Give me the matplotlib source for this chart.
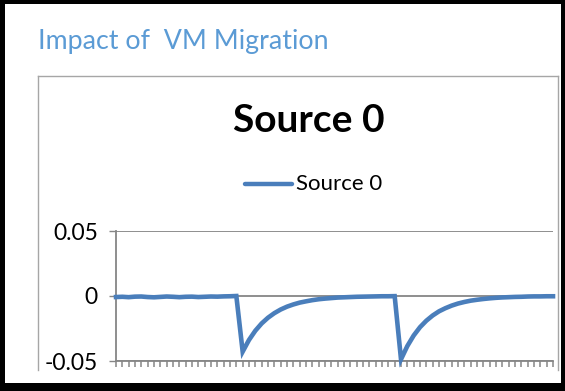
import matplotlib
matplotlib.use("Agg")
import matplotlib.pyplot as plt
from matplotlib.patches import Rectangle
from matplotlib.lines import Line2D

W, H = 565, 391

page_title = "Impact of  VM Migration"
series_name = "Source 0"
y_ticks = [-0.05, 0, 0.05]
y_tick_labels = ["-0.05", "0", "0.05"]

# steady state before the first migration (points 0-19)
baseline = [-0.0008, -0.0006, -0.0009, -0.0005, -0.0004, -0.0008, -0.0010,
            -0.0007, -0.0004, -0.0006, -0.0009, -0.0006, -0.0005, -0.0008,
            -0.0006, -0.0004, -0.0005, -0.0003, -0.0002, 0.0000]
# first migration and recovery (points 20-44)
spike_1 = [-0.0428, -0.0338, -0.0267, -0.0211, -0.0167, -0.0132, -0.0104,
           -0.0082, -0.0065, -0.0051, -0.0041, -0.0032, -0.0025, -0.0020,
           -0.0016, -0.0012, -0.0010, -0.0008, -0.0006, -0.0005, -0.0004,
           -0.0003, -0.0002, -0.0002, -0.0001]
# second migration and recovery (points 45-69)
spike_2 = [-0.0487, -0.0385, -0.0304, -0.0240, -0.0190, -0.0150, -0.0118,
           -0.0094, -0.0074, -0.0058, -0.0046, -0.0036, -0.0029, -0.0023,
           -0.0018, -0.0014, -0.0011, -0.0009, -0.0007, -0.0006, -0.0004,
           -0.0003, -0.0003, -0.0002, -0.0002]

values = baseline + spike_1 + spike_2
points = list(range(len(values)))

line_color = "#4A7EBB"
axis_gray = "#868686"
box_gray = "#A6A6A6"


def fx(x):
    return x / W


def fy(y):
    return 1 - y / H


fig = plt.figure(figsize=(W / 100, H / 100), dpi=100)
fig.patch.set_facecolor("white")

# black frame around the slide
for x0, y0, w, h in [(0, 0, W, 4), (0, 0, 5, H), (561, 0, 4, H), (0, 383, W, 8)]:
    fig.add_artist(Rectangle((fx(x0), fy(y0 + h)), w / W, h / H,
                             transform=fig.transFigure, color="black", lw=0))

# chart area border (cut off at the bottom)
for xs, ys in [([38, 38], [76, 370]), ([38, 558], [76, 76]), ([558, 558], [76, 370])]:
    fig.add_artist(Line2D([fx(v) for v in xs], [fy(v) for v in ys],
                          transform=fig.transFigure, color=box_gray, lw=1))

fig.text(fx(38), fy(41), page_title, family="Lato", fontsize=19.3,
         color="#5B9BD5", va="center", ha="left")

fig.text(fx(309), fy(121), series_name, family="Lato", fontweight="bold",
         fontsize=28, color="black", ha="center", va="center")

# legend
fig.add_artist(Line2D([fx(245), fx(292)], [fy(184), fy(184)],
                      transform=fig.transFigure, color=line_color, lw=3.2,
                      solid_capstyle="round"))
fig.text(fx(296), fy(184), series_name, family="Lato", fontsize=16,
         color="black", ha="left", va="center")

ax = fig.add_axes([fx(116), fy(361), (553 - 116) / W, (361 - 231) / H])
ax.plot(points, values, color=line_color, lw=3.3, solid_joinstyle="miter",
        clip_on=False, zorder=3)

ax.set_xlim(points[0], points[-1])
ax.set_ylim(y_ticks[0], y_ticks[-1])
ax.set_xticks(points)
ax.set_xticklabels([])
ax.set_yticks(y_ticks)
ax.set_yticklabels(y_tick_labels, family="Lato", fontsize=16.5)
ax.tick_params(axis="x", direction="out", length=4.5, width=1.1, color=axis_gray)
ax.tick_params(axis="y", direction="out", length=5, width=1, color=axis_gray, pad=8)

ax.yaxis.grid(True, color=axis_gray, lw=1.3)
ax.set_axisbelow(True)
for side in ["top", "right"]:
    ax.spines[side].set_visible(False)
for side in ["left", "bottom"]:
    ax.spines[side].set_color(axis_gray)
    ax.spines[side].set_linewidth(1.3)

fig.savefig("out.png", dpi=100)
